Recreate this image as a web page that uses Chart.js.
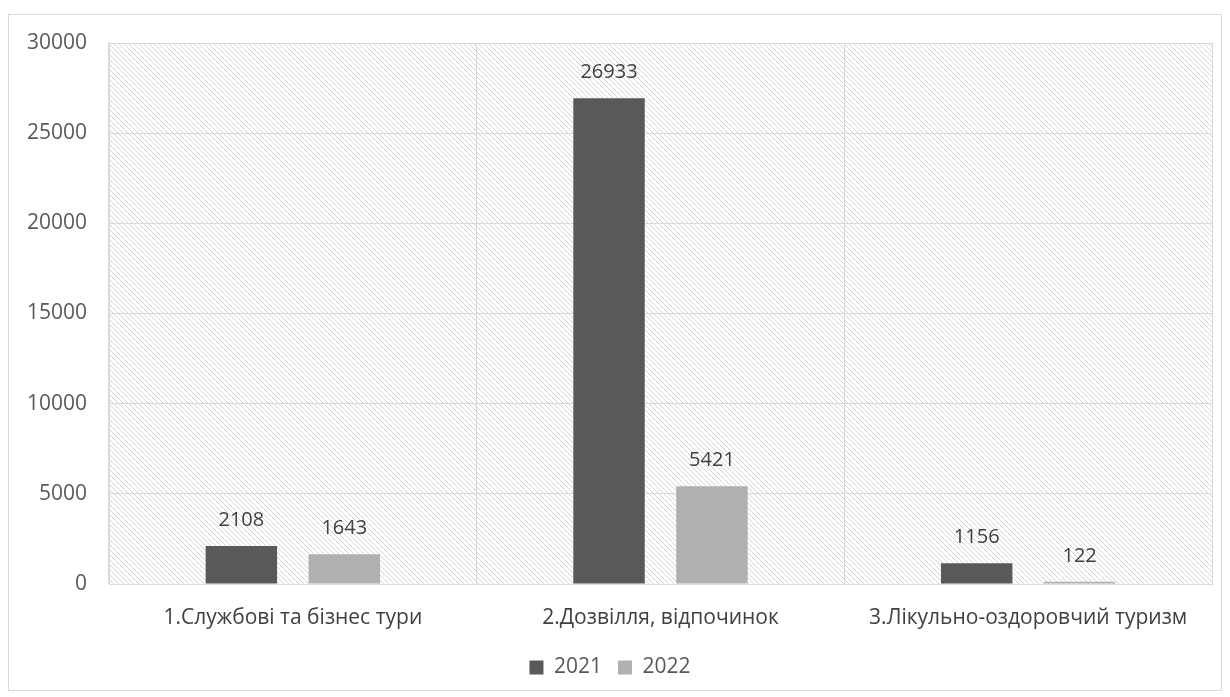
<!DOCTYPE html>
<html>
<head>
<meta charset="utf-8">
<script src="https://cdn.jsdelivr.net/npm/chart.js@4.4.1/dist/chart.umd.min.js"></script>
<style>
  html, body { margin: 0; padding: 0; background: #fff; }
  #wrap { position: relative; width: 1230px; height: 697px; }
</style>
</head>
<body>
<div id="wrap"><canvas id="chart" width="1230" height="697"></canvas></div>
<script>
// chart values
var categories = ['1.Службові та бізнес тури', '2.Дозвілля, відпочинок', '3.Лікульно-оздоровчий туризм'];
var series2021 = [2108, 26933, 1156];
var series2022 = [1643, 5421, 122];
var yTicks = [0, 5000, 10000, 15000, 20000, 25000, 30000];

var FONT = "'Open Sans', 'Liberation Sans', sans-serif";

function makeHatch() {
    var c = document.createElement('canvas');
    c.width = 5; c.height = 5;
    var g = c.getContext('2d');
    g.fillStyle = '#fff';
    g.fillRect(0, 0, 5, 5);
    g.strokeStyle = '#d4d4d4';
    g.lineWidth = 1;
    g.beginPath();
    g.moveTo(-1, -1); g.lineTo(6, 6);
    g.moveTo(-1, 4); g.lineTo(1, 6);
    g.moveTo(4, -1); g.lineTo(6, 1);
    g.stroke();
    return g.createPattern(c, 'repeat');
}

var framePlugin = {
    id: 'frame',
    beforeDraw: function (chart) {
        var ctx = chart.ctx, a = chart.chartArea;
        ctx.save();
        ctx.fillStyle = '#fff';
        ctx.fillRect(0, 0, chart.width, chart.height);
        ctx.strokeStyle = '#d9d9d9';
        ctx.lineWidth = 1;
        ctx.strokeRect(8.5, 14.5, 1213, 676);
        ctx.fillStyle = makeHatch();
        ctx.fillRect(a.left, a.top, a.right - a.left, a.bottom - a.top);
        ctx.strokeRect(Math.round(a.left) + 0.5, Math.round(a.top) + 0.5, Math.round(a.right - a.left), Math.round(a.bottom - a.top));
        ctx.restore();
    }
};

var valueLabels = {
    id: 'valueLabels',
    afterDatasetsDraw: function (chart) {
        var ctx = chart.ctx;
        ctx.save();
        ctx.font = '20px ' + FONT;
        ctx.fillStyle = '#404040';
        ctx.textAlign = 'center';
        ctx.textBaseline = 'middle';
        chart.data.datasets.forEach(function (ds, i) {
            chart.getDatasetMeta(i).data.forEach(function (bar, j) {
                ctx.fillText(ds.data[j], bar.x, bar.y - 26);
            });
        });
        ctx.restore();
    }
};

new Chart(document.getElementById('chart').getContext('2d'), {
    type: 'bar',
    data: {
        labels: categories,
        datasets: [
            { label: '2021', data: series2021, backgroundColor: '#595959' },
            { label: '2022', data: series2022, backgroundColor: '#b0b0b0' }
        ]
    },
    options: {
        responsive: false,
        animation: false,
        devicePixelRatio: 1,
        layout: { padding: { left: 8, top: 43, right: 18, bottom: 9 } },
        datasets: { bar: { categoryPercentage: 0.56, barPercentage: 0.694 } },
        plugins: {
            legend: {
                position: 'bottom',
                labels: {
                    font: { family: FONT, size: 21 },
                    color: '#595959',
                    boxWidth: 14,
                    boxHeight: 14,
                    padding: 16
                }
            },
            tooltip: { enabled: false }
        },
        scales: {
            x: {
                grid: { color: '#d9d9d9', offset: true, drawTicks: false },
                border: { color: '#d9d9d9' },
                ticks: { font: { family: FONT, size: 21 }, color: '#404040', padding: 21 },
                afterFit: function (s) { s.height = 57; }
            },
            y: {
                min: 0,
                max: 30000,
                afterBuildTicks: function (s) {
                    s.ticks = yTicks.map(function (v) { return { value: v }; });
                },
                grid: { color: '#d9d9d9', drawTicks: false },
                border: { display: false },
                ticks: {
                    font: { family: FONT, size: 21 },
                    color: '#595959',
                    padding: 22,
                    callback: function (v) { return String(v); }
                },
                afterFit: function (s) { s.width = 101; }
            }
        }
    },
    plugins: [framePlugin, valueLabels]
});
</script>
</body>
</html>
